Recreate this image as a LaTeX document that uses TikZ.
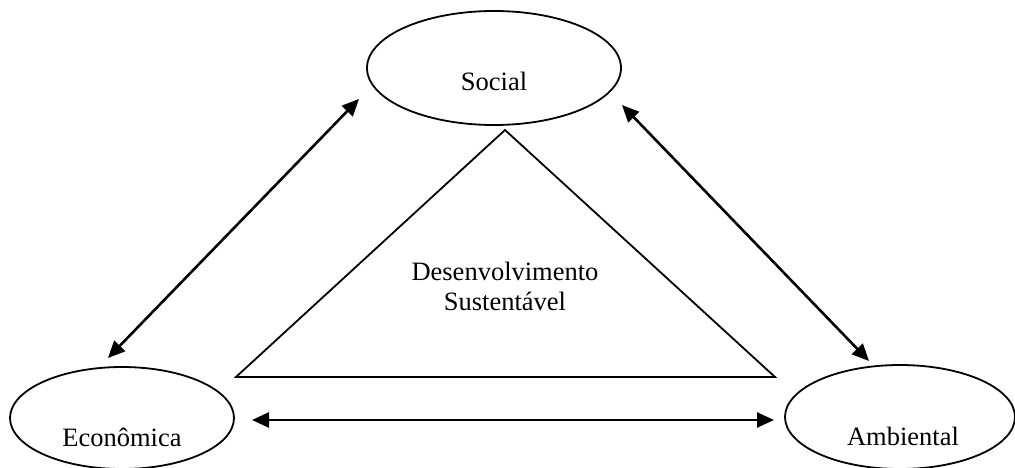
\documentclass[tikz,border=0pt]{standalone}
\usepackage{fontspec}
\setmainfont{Liberation Serif}
\usetikzlibrary{shapes.geometric,arrows.meta}
\begin{document}
\begin{tikzpicture}[x=1pt,y=-1pt,
  oval/.style={draw,ellipse,line width=1.8pt,inner sep=0pt},
  lbl/.style={font=\fontsize{26.5}{30}\selectfont,inner sep=0pt},
  link/.style={line width=2.6pt,{Triangle[length=17pt,width=15pt]}-{Triangle[length=17pt,width=15pt]}},
  tri/.style={line width=1.8pt}]
\useasboundingbox (0,0) rectangle (1015,468);
\node[oval,minimum width=254pt,minimum height=114pt] (soc) at (494,68) {};
\node[oval,minimum width=224pt,minimum height=102pt] (eco) at (122,418) {};
\node[oval,minimum width=230pt,minimum height=104pt] (amb) at (900,417) {};
\node[lbl,anchor=base] (socT) at (494,91) {Social};
\node[lbl,anchor=base] (ecoT) at (122,446) {Econômica};
\node[lbl,anchor=base] (ambT) at (903,445) {Ambiental};
\coordinate (tA) at (505,130);
\coordinate (tL) at (236,377);
\coordinate (tR) at (775,377);
\draw[tri] (tA) -- (tL) -- (tR) -- cycle;
\node[lbl,anchor=base] (dsT1) at (505,280) {Desenvolvimento};
\node[lbl,anchor=base] (dsT2) at (505,310) {Sustentável};
\coordinate (a1) at (359,99);
\coordinate (a2) at (108,358);
\coordinate (b1) at (622,105);
\coordinate (b2) at (869,361);
\coordinate (c1) at (252,420);
\coordinate (c2) at (774,420);
\draw[link] (a1) -- (a2);
\draw[link] (b1) -- (b2);
\draw[link] (c1) -- (c2);
\end{tikzpicture}
\end{document}
